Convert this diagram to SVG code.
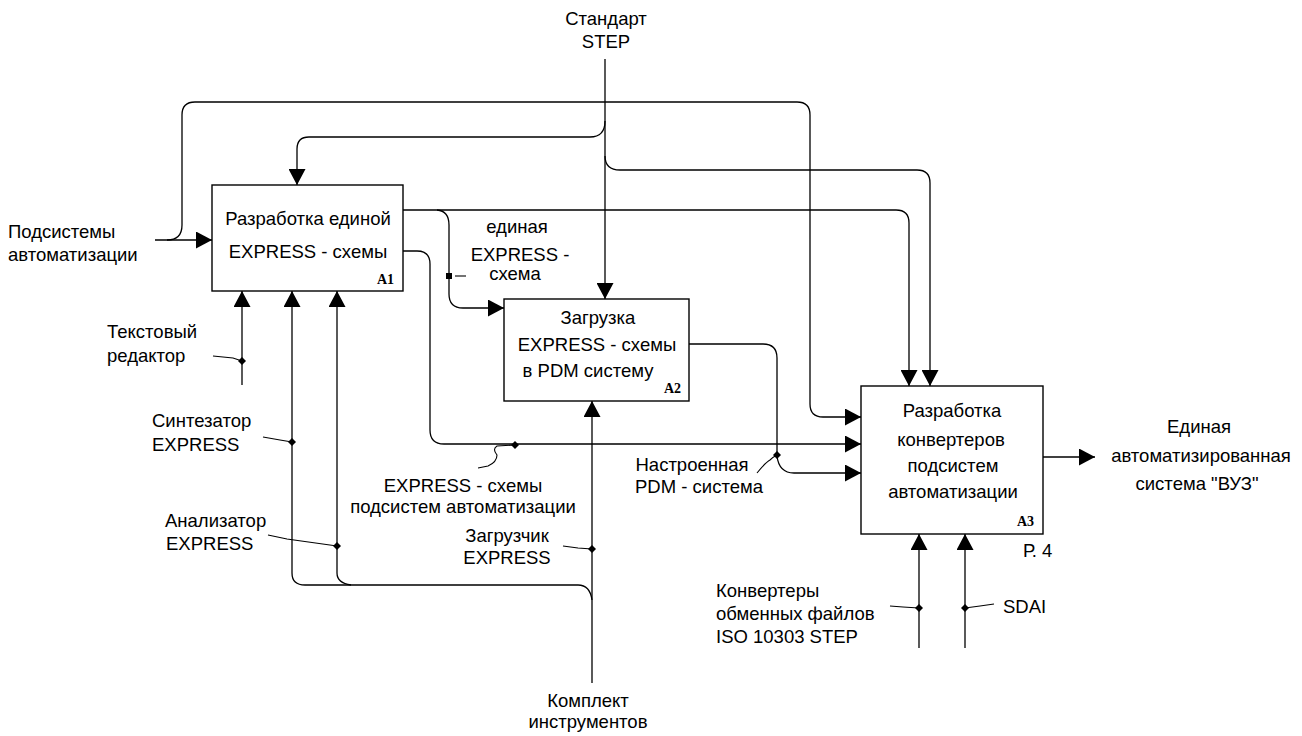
<svg xmlns="http://www.w3.org/2000/svg" width="1302" height="736" viewBox="0 0 1302 736">
<style>
.t{font-family:"Liberation Sans",Arial,sans-serif;font-size:18.5px;fill:#000}
.c{text-anchor:middle}
.n{font-family:"Liberation Serif","Times New Roman",serif;font-size:14px;font-weight:bold;fill:#000;text-anchor:end}
.box{fill:#fff;stroke:#000;stroke-width:1.4}
.ln{fill:none;stroke:#000;stroke-width:1.3}
.lead{fill:none;stroke:#000;stroke-width:1.1}
.dot{fill:#000}
</style>
<defs>
<marker id="ar" markerUnits="userSpaceOnUse" markerWidth="17" markerHeight="17" refX="16" refY="8.5" orient="auto" viewBox="0 0 17 17">
<path d="M0,0 L16,8.5 L0,17 z" fill="#000"/>
</marker>
</defs>
<rect width="1302" height="736" fill="#fff"/>

<g id="connectors">
<!-- Standard STEP -->
<path class="ln" d="M605 59 V299" marker-end="url(#ar)"/>
<path class="ln" d="M605 121 Q605 137 590 137 H309 Q297 137 297 149 V185" marker-end="url(#ar)"/>
<path class="ln" d="M605 156 Q605 170 620 170 H917 Q930 170 930 183 V386" marker-end="url(#ar)"/>
<!-- Подсистемы автоматизации -->
<path class="ln" d="M155 240 H212" marker-end="url(#ar)"/>
<path class="ln" d="M167 240 Q182 240 182 225 V115 Q182 102 195 102 H797 Q810 102 810 115 V404 Q810 417 823 417 H861" marker-end="url(#ar)"/>
<!-- A1 output 1 -->
<path class="ln" d="M403 210 H896 Q909 210 909 223 V386" marker-end="url(#ar)"/>
<path class="ln" d="M437 210 Q449 211 449 225 V294 Q449 308 463 308 H504" marker-end="url(#ar)"/>
<!-- A1 output 2 -->
<path class="ln" d="M403 251 H417 Q430 251 430 264 V430 Q430 444 444 444 H861" marker-end="url(#ar)"/>
<!-- A2 output -->
<path class="ln" d="M689 344 H763 Q777 344 777 358 V456 Q779 473 794 473 H861" marker-end="url(#ar)"/>
<!-- A3 output -->
<path class="ln" d="M1043 457 H1095" marker-end="url(#ar)"/>
<!-- A1 mechanisms -->
<path class="ln" d="M242 385 V291" marker-end="url(#ar)"/>
<path class="ln" d="M292 573 V291" marker-end="url(#ar)"/>
<path class="ln" d="M337 573 V291" marker-end="url(#ar)"/>
<path class="ln" d="M592 600 Q590 585 578 585 H305 Q292 585 292 573"/>
<path class="ln" d="M351 585 Q337 583 337 573"/>
<path class="ln" d="M592 683 V401" marker-end="url(#ar)"/>
<!-- A3 mechanisms -->
<path class="ln" d="M919 648 V534" marker-end="url(#ar)"/>
<path class="ln" d="M965 648 V534" marker-end="url(#ar)"/>
<!-- leaders -->
<path class="lead" d="M213 356 L233 358 L242 361"/>
<path class="lead" d="M263 437 L280 440 L292 442"/>
<path class="lead" d="M268 535 L287 539 L337 546"/>
<path class="lead" d="M563 546 L578 548 L592 549"/>
<path class="lead" d="M455 276 H466"/>
<path class="lead" d="M515 445 L497 446 Q492 449 497 455 Q497 462 488 466 L478 468"/>
<path class="lead" d="M757 473 Q766 462 770 460 Q773 457 777 455"/>
<path class="lead" d="M890 606 L903 607 L919 608"/>
<path class="lead" d="M965 608 L980 606 L994 604"/>
<!-- junction dots -->
<rect class="dot" x="446" y="273" width="6" height="6"/>
<path class="dot" d="M242 357 L246 361 L242 365 L238 361 z"/>
<path class="dot" d="M292 438 L296 442 L292 446 L288 442 z"/>
<path class="dot" d="M337 542 L341 546 L337 550 L333 546 z"/>
<path class="dot" d="M592 545 L596 549 L592 553 L588 549 z"/>
<path class="dot" d="M515 441 L519 445 L515 449 L511 445 z"/>
<path class="dot" d="M777 451 L781 455 L777 459 L773 455 z"/>
<path class="dot" d="M919 604 L923 608 L919 612 L915 608 z"/>
<path class="dot" d="M965 604 L969 608 L965 612 L961 608 z"/>
</g>

<g id="A1">
<rect class="box" x="212" y="185" width="191" height="106"/>
<text class="t c" x="308" y="225">Разработка единой</text>
<text class="t c" x="308" y="258">EXPRESS - схемы</text>
<text class="n" x="394" y="284">A1</text>
</g>
<g id="A2">
<rect class="box" x="504" y="299" width="185" height="102"/>
<text class="t c" x="598" y="324">Загрузка</text>
<text class="t c" x="597" y="351">EXPRESS - схемы</text>
<text class="t c" x="588" y="377">в PDM систему</text>
<text class="n" x="681" y="393">A2</text>
</g>
<g id="A3">
<rect class="box" x="861" y="386" width="182" height="148"/>
<text class="t c" x="952" y="417">Разработка</text>
<text class="t c" x="951" y="446">конвертеров</text>
<text class="t c" x="953" y="472">подсистем</text>
<text class="t c" x="953" y="498">автоматизации</text>
<text class="n" x="1034" y="526">A3</text>
</g>

<g id="labels">
<text class="t c" x="606" y="25">Стандарт</text>
<text class="t c" x="606" y="48">STEP</text>
<text class="t" x="8" y="238">Подсистемы</text>
<text class="t" x="8" y="261">автоматизации</text>
<text class="t" x="107" y="338">Текстовый</text>
<text class="t" x="107" y="362">редактор</text>
<text class="t" x="152" y="427">Синтезатор</text>
<text class="t" x="152" y="451">EXPRESS</text>
<text class="t" x="165" y="527">Анализатор</text>
<text class="t" x="166" y="550">EXPRESS</text>
<text class="t c" x="517" y="233">единая</text>
<text class="t c" x="520" y="261">EXPRESS -</text>
<text class="t c" x="515" y="280">схема</text>
<text class="t c" x="463" y="492">EXPRESS - схемы</text>
<text class="t c" x="463" y="513">подсистем автоматизации</text>
<text class="t c" x="507" y="542">Загрузчик</text>
<text class="t c" x="507" y="564">EXPRESS</text>
<text class="t c" x="692" y="471">Настроенная</text>
<text class="t c" x="699" y="493">PDM - система</text>
<text class="t c" x="1199" y="433">Единая</text>
<text class="t c" x="1201" y="462">автоматизированная</text>
<text class="t c" x="1197" y="490">система "ВУЗ"</text>
<text class="t" x="1023" y="557">Р. 4</text>
<text class="t" x="716" y="597">Конвертеры</text>
<text class="t" x="716" y="620">обменных файлов</text>
<text class="t" x="716" y="643">ISO 10303 STEP</text>
<text class="t" x="1003" y="613">SDAI</text>
<text class="t c" x="588" y="707">Комплект</text>
<text class="t c" x="588" y="728">инструментов</text>
</g>
</svg>
